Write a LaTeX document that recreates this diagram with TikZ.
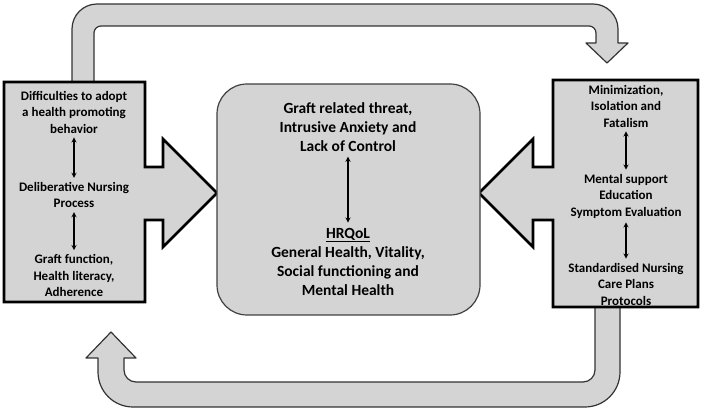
\documentclass[tikz,border=0pt]{standalone}
\usepackage{fontspec}
\setmainfont{Carlito}
\definecolor{boxgray}{gray}{0.83}
\tikzset{
  band/.style={fill=boxgray,draw=black!80,line width=1.2pt,line join=round},
  sidebox/.style={fill=boxgray,draw=black,line width=2.6pt},
  mainbox/.style={fill=boxgray,draw=black!75,line width=1.2pt,rounded corners=30pt,
    minimum width=263pt,minimum height=231pt},
  sidetext/.style={align=center,font=\bfseries\fontsize{13}{16.5}\selectfont,inner sep=2pt},
  maintext/.style={align=center,font=\bfseries\fontsize{15.5}{19}\selectfont,inner sep=3pt},
  link/.style={<->,line width=1.3pt,shorten <=2pt,shorten >=2pt}
}
\begin{document}
\begin{tikzpicture}[>=stealth,x=1pt,y=1pt]
  \useasboundingbox (0,0) rectangle (702,412);
  % feedback arrows
  \path[band] (72,322) -- (72,383) arc[start angle=180,end angle=90,radius=25pt]
    -- (593,408) arc[start angle=90,end angle=0,radius=25pt]
    -- (618,369) -- (628,369) -- (607,349) -- (586,369) -- (596,369)
    -- (596,379) arc[start angle=0,end angle=90,radius=7pt]
    -- (101,386) arc[start angle=90,end angle=180,radius=7pt]
    -- (94,322) -- cycle;
  \path[band] (620,112) -- (620,40) arc[start angle=0,end angle=-90,radius=35pt]
    -- (133,5) arc[start angle=270,end angle=180,radius=35pt]
    -- (98,54) -- (86,54) -- (111,80) -- (136,54) -- (124,54)
    -- (124,42) arc[start angle=180,end angle=270,radius=12pt]
    -- (583,30) arc[start angle=270,end angle=360,radius=12pt]
    -- (595,112) -- cycle;
  % side boxes with block arrows
  \path[sidebox] (4,330) -- (145,330) -- (145,245) -- (163,245) -- (163,273)
    -- (217,219) -- (163,165) -- (163,192) -- (145,192) -- (145,110)
    -- (4,110) -- cycle;
  \path[sidebox] (698,332) -- (553,332) -- (553,245) -- (533,245) -- (533,273)
    -- (479,219) -- (533,165) -- (533,192) -- (553,192) -- (553,105)
    -- (698,105) -- cycle;
  % centre
  \node[mainbox] (core) at (348.5,212.5) {};
  \node[maintext] (threat) at (348,285) {Graft related threat,\\Intrusive Anxiety and\\Lack of Control};
  \node[maintext] (hrqol) at (348,150.5) {\underline{HRQoL}\\General Health, Vitality,\\Social functioning and\\Mental Health};
  \draw[link] (threat) -- (hrqol);
  % left
  \node[sidetext] (difficulty) at (74,300) {Difficulties to adopt\\a health promoting\\behavior};
  \node[sidetext] (deliberative) at (74,217) {Deliberative Nursing\\Process};
  \node[sidetext] (graftfn) at (74,136.5) {Graft function,\\Health literacy,\\Adherence};
  \draw[link] (difficulty) -- (deliberative);
  \draw[link] (deliberative) -- (graftfn);
  % right
  \node[sidetext] (minimization) at (626,306) {Minimization,\\Isolation and\\Fatalism};
  \node[sidetext] (support) at (626,216) {Mental support\\Education\\Symptom Evaluation};
  \node[sidetext] (careplans) at (626,128) {Standardised Nursing\\Care Plans\\Protocols};
  \draw[link] (minimization) -- (support);
  \draw[link] (support) -- (careplans);
\end{tikzpicture}
\end{document}
